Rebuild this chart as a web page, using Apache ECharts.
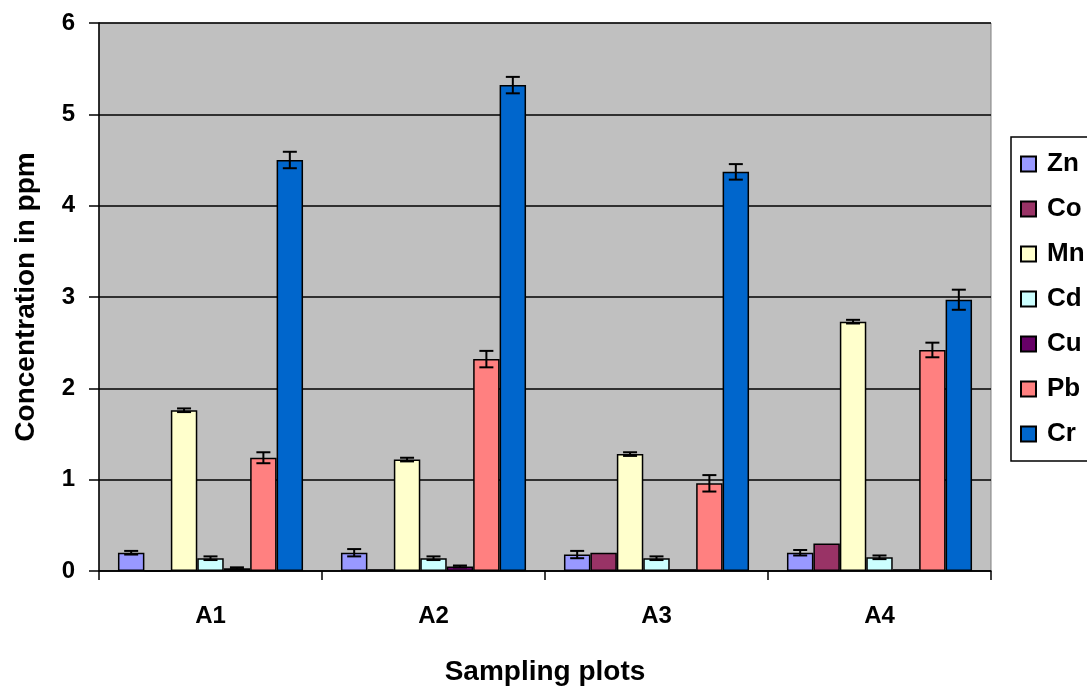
<!DOCTYPE html>
<html>
<head>
<meta charset="utf-8">
<script src="https://cdn.jsdelivr.net/npm/echarts@6/dist/echarts.min.js"></script>
<style>html,body{margin:0;padding:0;background:#fff;}#c{width:1087px;height:689px;}</style>
</head>
<body>
<div id="c"></div>
<script>
const categories = ['A1', 'A2', 'A3', 'A4'];
const seriesNames = ['Zn', 'Co', 'Mn', 'Cd', 'Cu', 'Pb', 'Cr'];
const seriesColors = ['#9999FF', '#993366', '#FFFFCC', '#CCFFFF', '#660066', '#FF8080', '#0066CC'];
const zn = [0.20, 0.20, 0.18, 0.20];
const co = [0.00, 0.02, 0.20, 0.30];
const mn = [1.76, 1.22, 1.28, 2.73];
const cd = [0.14, 0.14, 0.14, 0.15];
const cu = [0.03, 0.05, 0.02, 0.02];
const pb = [1.24, 2.32, 0.96, 2.42];
const cr = [4.50, 5.32, 4.37, 2.97];
const znErr = [0.02, 0.04, 0.04, 0.03];
const coErr = [0, 0, 0, 0];
const mnErr = [0.02, 0.02, 0.02, 0.02];
const cdErr = [0.02, 0.02, 0.02, 0.02];
const cuErr = [0.01, 0.01, 0, 0];
const pbErr = [0.06, 0.09, 0.09, 0.08];
const crErr = [0.09, 0.09, 0.085, 0.11];
const yTicks = [0, 1, 2, 3, 4, 5, 6];

const values = [zn, co, mn, cd, cu, pb, cr];
const errs = [znErr, coErr, mnErr, cdErr, cuErr, pbErr, crErr];
const catGap = 0.17;
const nSeries = seriesNames.length;
const font = 'Liberation Sans, Arial, sans-serif';

const chart = echarts.init(document.getElementById('c'));
const series = [];
seriesNames.forEach((name, i) => {
  series.push({
    name: name, type: 'bar', data: values[i],
    barGap: '0%', barCategoryGap: (catGap * 100) + '%',
    itemStyle: { color: seriesColors[i], borderColor: '#000', borderWidth: 1.5 },
    emphasis: { disabled: true }, animation: false
  });
});
const errData = [];
seriesNames.forEach((name, i) => {
  categories.forEach((c, j) => {
    if (errs[i][j] > 0) errData.push([j, values[i][j], errs[i][j], i]);
  });
});
series.push({
  type: 'custom', name: 'err', data: errData, z: 10, animation: false,
  renderItem: function (params, api) {
    const j = api.value(0), v = api.value(1), e = api.value(2), si = api.value(3);
    const band = api.size([1, 0])[0];
    const bw = band * (1 - catGap) / nSeries;
    const center = api.coord([j, 0])[0];
    const x = center + (si - (nSeries - 1) / 2) * bw;
    const top = api.coord([j, v + e])[1];
    const bot = api.coord([j, v - e])[1];
    const half = 7;
    const st = { stroke: '#000', lineWidth: 2 };
    return { type: 'group', children: [
      { type: 'line', shape: { x1: x, y1: top, x2: x, y2: bot }, style: st },
      { type: 'line', shape: { x1: x - half, y1: top, x2: x + half, y2: top }, style: st },
      { type: 'line', shape: { x1: x - half, y1: bot, x2: x + half, y2: bot }, style: st }
    ]};
  }
});

chart.setOption({
  animation: false,
  grid: { left: 99, right: 96, top: 23, bottom: 118, containLabel: false, outerBoundsMode: 'none',
    show: true, backgroundColor: '#C0C0C0', borderColor: '#808080', borderWidth: 1 },
  legend: {
    data: seriesNames, orient: 'vertical', left: 1011, top: 137,
    itemWidth: 15, itemHeight: 15, itemGap: 19, padding: [14, 10, 14, 9],
    backgroundColor: '#fff', borderColor: '#000', borderWidth: 1.5,
    icon: 'rect',
    textStyle: { fontFamily: font, fontWeight: 'bold', fontSize: 26, lineHeight: 26, color: '#000', padding: [0, 0, 0, 6] }
  },
  xAxis: {
    type: 'category', data: categories,
    axisLine: { lineStyle: { color: '#000', width: 1.5 } },
    axisTick: { show: true, length: 9, lineStyle: { color: '#000', width: 1.5 } },
    axisLabel: { margin: 33, fontFamily: font, fontWeight: 'bold', fontSize: 24, color: '#000' },
    name: 'Sampling plots', nameLocation: 'middle', nameGap: 87,
    nameTextStyle: { fontFamily: font, fontWeight: 'bold', fontSize: 28, color: '#000' }
  },
  yAxis: {
    type: 'value', min: 0, max: 6, interval: 1,
    axisLine: { show: true, lineStyle: { color: '#000', width: 1.5 } },
    axisTick: { show: true, length: 10, lineStyle: { color: '#000', width: 1.5 } },
    axisLabel: { margin: 24, fontFamily: font, fontWeight: 'bold', fontSize: 24, color: '#000',
      formatter: v => yTicks.includes(v) ? String(v) : '' },
    splitLine: { show: true, lineStyle: { color: '#000', width: 1.5 } },
    name: 'Concentration in ppm', nameLocation: 'middle', nameGap: 59,
    nameTextStyle: { fontFamily: font, fontWeight: 'bold', fontSize: 28, color: '#000' }
  },
  series: series
});
</script>
</body>
</html>
